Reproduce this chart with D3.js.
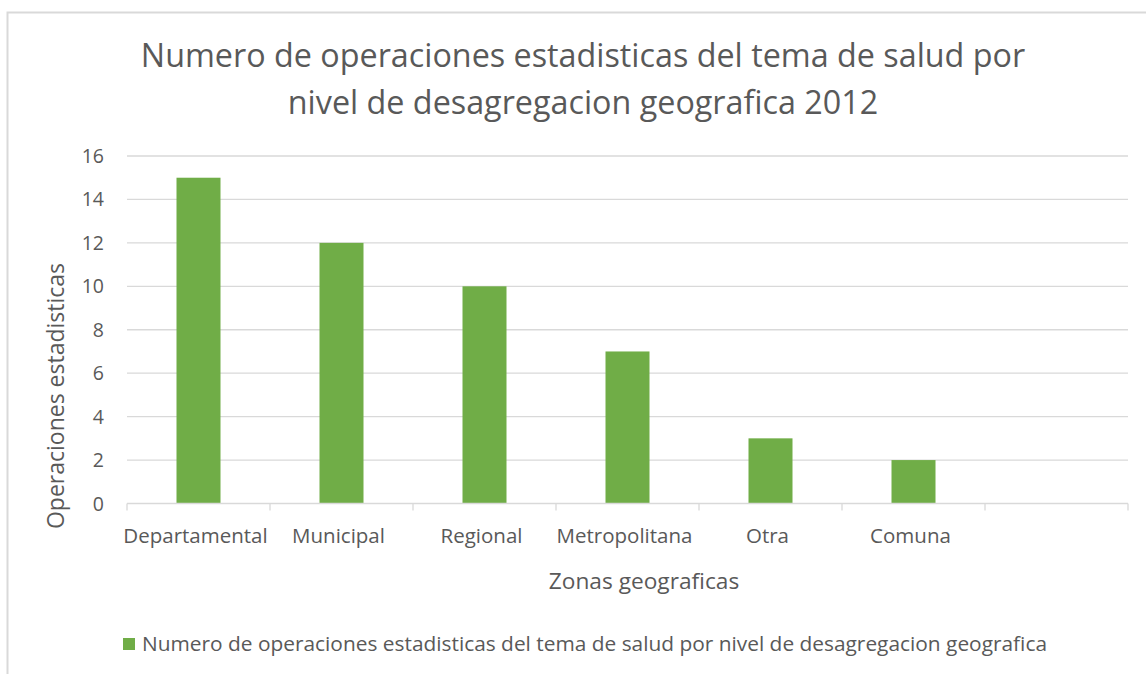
<!DOCTYPE html>
<html>
<head>
<meta charset="utf-8">
<script src="https://cdn.jsdelivr.net/npm/d3@7"></script>
<style>
  body { margin: 0; background: #fff; }
  svg { display: block; font-family: "Open Sans", sans-serif; }
</style>
</head>
<body>
<svg id="chart" width="1146" height="674"></svg>
<script>
// data
const categories = ["Departamental", "Municipal", "Regional", "Metropolitana", "Otra", "Comuna", ""];
const values = [15, 12, 10, 7, 3, 2, null];
const yTicks = [0, 2, 4, 6, 8, 10, 12, 14, 16];
const titleLines = ["Numero de operaciones estadisticas del tema de salud por",
                    "nivel de desagregacion geografica 2012"];
const seriesName = "Numero de operaciones estadisticas del tema de salud por nivel de desagregacion geografica";

const svg = d3.select("#chart");
const textColor = "#595959";
const gridColor = "#d9d9d9";
const barColor = "#70ad47";

// chart frame (runs past the right/bottom edges like the source)
svg.append("rect")
    .attr("x", 7.5).attr("y", 12.5)
    .attr("width", 1200).attr("height", 700)
    .attr("fill", "#fff")
    .attr("stroke", gridColor).attr("stroke-width", 2);

const plotLeft = 127, plotRight = 1128, plotTop = 156, plotBottom = 503.5;

const x = d3.scaleBand().domain(categories).range([plotLeft, plotRight]);
const y = d3.scaleLinear().domain([0, 16]).range([plotBottom, plotTop]);

// gridlines
svg.append("g")
    .selectAll("line")
    .data(yTicks.filter(d => d > 0))
    .enter()
    .append("line")
    .attr("x1", plotLeft).attr("x2", plotRight)
    .attr("y1", d => y(d)).attr("y2", d => y(d))
    .attr("stroke", gridColor).attr("stroke-width", 1.3);

// y tick labels
svg.append("g")
    .selectAll("text")
    .data(yTicks)
    .enter()
    .append("text")
    .attr("x", 104)
    .attr("y", d => y(d) + 7)
    .attr("text-anchor", "end")
    .attr("fill", textColor)
    .style("font-size", "19.5px")
    .text(d => d);

// bars
const barW = 44;
svg.append("g")
    .selectAll("rect")
    .data(categories.map((c, i) => ({ c, v: values[i] })).filter(d => d.v != null))
    .enter()
    .append("rect")
    .attr("x", d => x(d.c) + (x.bandwidth() - barW) / 2)
    .attr("y", d => y(d.v))
    .attr("width", barW)
    .attr("height", d => y(0) - y(d.v))
    .attr("fill", barColor);

// x axis
const xAxis = svg.append("g").attr("transform", `translate(0,${plotBottom})`);
xAxis.append("line")
    .attr("x1", plotLeft).attr("x2", plotRight)
    .attr("stroke", gridColor).attr("stroke-width", 1.3);
xAxis.selectAll("line.tick")
    .data(categories.map(c => x(c)).concat([plotRight]))
    .enter()
    .append("line")
    .attr("class", "tick")
    .attr("x1", d => d).attr("x2", d => d)
    .attr("y1", 0).attr("y2", 7)
    .attr("stroke", gridColor).attr("stroke-width", 1.3);
xAxis.selectAll("text")
    .data(categories)
    .enter()
    .append("text")
    .attr("x", d => x(d) + x.bandwidth() / 2 - 3)
    .attr("y", 39.5)
    .attr("text-anchor", "middle")
    .attr("fill", textColor)
    .style("font-size", "20.5px")
    .text(d => d);

// title
svg.append("text")
    .attr("text-anchor", "middle")
    .attr("fill", textColor)
    .style("font-size", "32.3px")
    .selectAll("tspan")
    .data(titleLines)
    .enter()
    .append("tspan")
    .attr("x", 583)
    .attr("y", (d, i) => 67 + i * 47)
    .text(d => d);

// axis titles
svg.append("text")
    .attr("transform", "translate(64,396) rotate(-90)")
    .attr("text-anchor", "middle")
    .attr("fill", textColor)
    .style("font-size", "23px")
    .text("Operaciones estadisticas");

svg.append("text")
    .attr("x", 644).attr("y", 589)
    .attr("text-anchor", "middle")
    .attr("fill", textColor)
    .style("font-size", "22.7px")
    .text("Zonas geograficas");

// legend
const legend = svg.append("g").attr("transform", "translate(123,638)");
legend.append("rect")
    .attr("width", 12).attr("height", 12)
    .attr("fill", barColor);
legend.append("text")
    .attr("x", 19).attr("y", 13)
    .attr("fill", textColor)
    .attr("textLength", 905)
    .attr("lengthAdjust", "spacingAndGlyphs")
    .style("font-size", "20px")
    .text(seriesName);
</script>
</body>
</html>
